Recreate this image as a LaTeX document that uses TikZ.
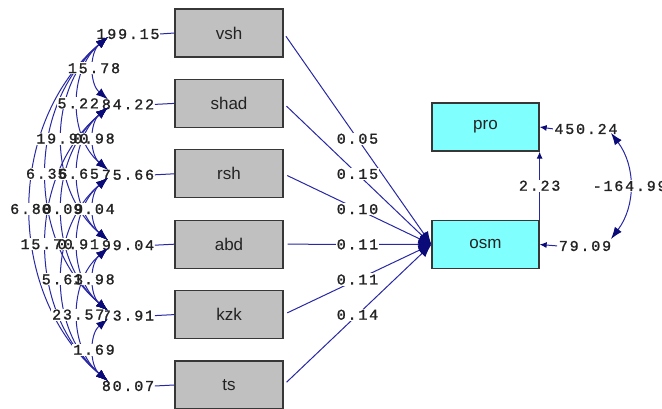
\documentclass[tikz,border=0pt]{standalone}
\usepackage{fontspec}
\setmainfont{Liberation Sans}
\newfontfamily\labfam[LetterSpace=12,FakeBold=1.2]{Liberation Mono}
\usetikzlibrary{arrows.meta}
\definecolor{pathc}{RGB}{40,40,165}
\definecolor{headc}{RGB}{10,10,120}
\definecolor{grayfill}{RGB}{192,192,192}
\definecolor{cyanfill}{RGB}{128,255,255}
\definecolor{edgec}{RGB}{55,55,55}
\definecolor{txtc}{RGB}{35,35,35}
\tikzset{
  gbox/.style={draw=edgec, fill=grayfill, line width=1.3pt, minimum width=108pt, minimum height=48pt, inner sep=0pt, font=\fontsize{17}{17}\selectfont, text=txtc},
  cbox/.style={gbox, fill=cyanfill, minimum width=107pt},
  lab/.style={font=\labfam\fontsize{15}{15}\selectfont, text=txtc, inner sep=0.5pt},
  labbg/.style={lab, fill=white, inner sep=1pt},
  pth/.style={draw=pathc, line width=1pt},
  arcline/.style={draw=pathc, line width=1pt, {Latex[length=12pt,width=8.5pt,color=headc]}-{Latex[length=12pt,width=8.5pt,color=headc]}},
  tohead/.style={-{Latex[length=13pt,width=10pt,color=headc]}},
  smallhead/.style={-{Latex[length=7pt,width=6pt,color=headc]}}
}
\begin{document}
\begin{tikzpicture}[x=1pt,y=-1pt]
\useasboundingbox (0,0) rectangle (662,409);
\fill[white] (0,0) rectangle (662,409);

% right boxes
\node[cbox] (pro) at (485.5,127) {pro};
\node[cbox] (osm) at (485.5,244.5) {osm};

% left boxes, variance labels, arc end points
\foreach \n/\t/\y/\v in {1/vsh/33/199.15, 2/shad/103.4/84.22, 3/rsh/173.8/75.66, 4/abd/244.2/99.04, 5/kzk/314.6/73.91, 6/ts/385/80.07} {
  \node[gbox] (b\n) at (229,\y) {\t};
  \node[lab] (v\n) at (128,\y+1) {\v};
  \draw[pth] (v\n.east) -- (b\n.west);
  \coordinate (s\n) at (108,\y+4);
  \coordinate (e\n) at (108,\y-4);
}

% paths to osm
\foreach \n/\v in {1/0.05, 2/0.15, 3/0.10, 4/0.11, 5/0.11, 6/0.14} {
  \draw[pth, tohead, shorten <=4pt] (b\n.east) -- node[labbg] (p\n) {\v} (osm.west);
}

% covariance arcs
\foreach \i/\j in {1/2,2/3,3/4,4/5,5/6,1/3,2/4,3/5,4/6,1/4,2/5,3/6,1/5,2/6,1/6} {
  \draw[arcline] (s\i) to[bend right=50] coordinate[midway] (m\i\j) (e\j);
}
% label backgrounds, then texts
\foreach \i/\j/\v in {1/2/15.78, 2/3/0.98, 3/4/9.04, 4/5/1.98, 5/6/1.69, 1/3/5.22, 2/4/5.65, 3/5/0.91, 4/6/23.57, 1/4/19.90, 2/5/0.09, 3/6/5.63, 1/5/6.36, 2/6/15.70, 1/6/6.80} {
  \node[labbg, text opacity=0] (cb\i\j) at (m\i\j) {\v};
}
\foreach \i/\j/\v in {1/2/15.78, 2/3/0.98, 3/4/9.04, 4/5/1.98, 5/6/1.69, 1/3/5.22, 2/4/5.65, 3/5/0.91, 4/6/23.57, 1/4/19.90, 2/5/0.09, 3/6/5.63, 1/5/6.36, 2/6/15.70, 1/6/6.80} {
  \node[lab] (c\i\j) at (m\i\j) {\v};
}

% osm -> pro
\draw[pth, smallhead] (osm.north east) -- node[labbg] (g) {2.23} (pro.south east);

% right variances
\node[lab] (vp) at (586,129) {450.24};
\node[lab] (vo) at (585,246) {79.09};
\draw[pth, smallhead, shorten <=1pt] (vp.west) -- (pro.east);
\draw[pth, smallhead, shorten <=1pt] (vo.west) -- (osm.east);
\coordinate (pa) at (611,133);
\coordinate (oa) at (611,239);
\draw[arcline] (pa) to[bend left=37] node[labbg] (cpo) {-164.99} (oa);
\end{tikzpicture}
\end{document}
